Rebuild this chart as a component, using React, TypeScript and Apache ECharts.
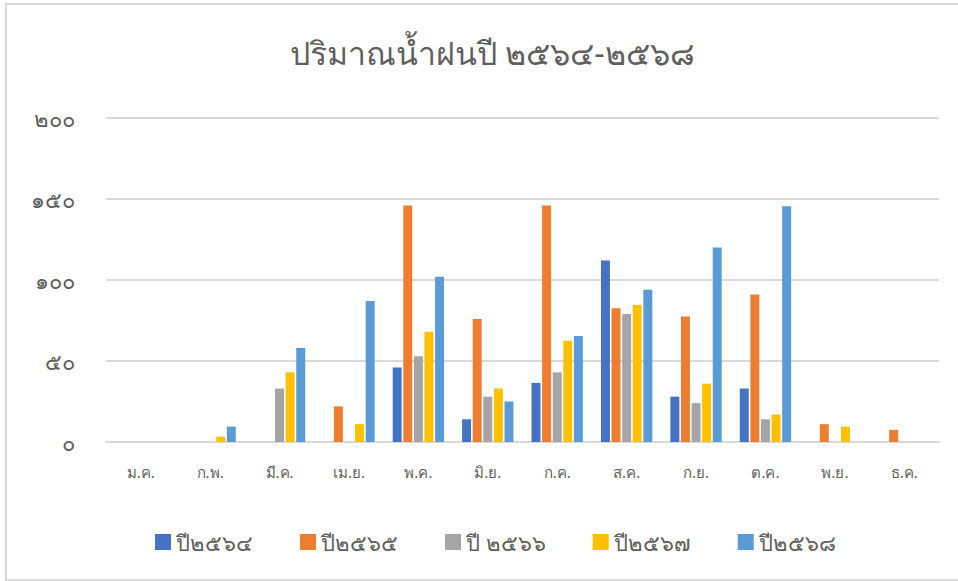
import React, { useEffect, useRef } from "react";
import * as echarts from "echarts";

const months = ["ม.ค.", "ก.พ.", "มี.ค.", "เม.ย.", "พ.ค.", "มิ.ย.", "ก.ค.", "ส.ค.", "ก.ย.", "ต.ค.", "พ.ย.", "ธ.ค."];
const seriesNames = ["ปี๒๕๖๔", "ปี๒๕๖๕", "ปี ๒๕๖๖", "ปี๒๕๖๗", "ปี๒๕๖๘"];
const y2564 = [null, null, null, null, 46, 14, 36.5, 112, 28, 33, null, null];
const y2565 = [null, null, null, 22, 146, 76, 146, 82.5, 77.5, 91, 11, 7.5];
const y2566 = [null, null, 33, null, 53, 28, 43, 79, 24, 14, null, null];
const y2567 = [null, 3.3, 43, 11, 68, 33, 62.5, 84.5, 36, 17, 9.5, null];
const y2568 = [null, 9.5, 58, 87, 102, 25, 65.5, 94, 120, 145.5, null, null];
const yTickLabels: Record<number, string> = { 0: "๐", 50: "๕๐", 100: "๑๐๐", 150: "๑๕๐", 200: "๒๐๐" };
const colors = ["#4472C4", "#ED7D31", "#A5A5A5", "#FFC000", "#5B9BD5"];
const titleText = "ปริมาณน้ำฝนปี ๒๕๖๔-๒๕๖๘";

const FONT = "'Noto Sans', 'DejaVu Sans', sans-serif";
const TXT = "#5f5f5f";

export default function App() {
  const ref = useRef<HTMLDivElement>(null);
  useEffect(() => {
    if (!ref.current) return;
    const chart = echarts.init(ref.current, undefined, { renderer: "svg" });
    const all = [y2564, y2565, y2566, y2567, y2568];
    chart.setOption({
      animation: false,
      backgroundColor: "#ffffff",
      color: colors,
      textStyle: { fontFamily: FONT },
      title: {
        text: titleText,
        left: 285,
        top: 31,
        textStyle: { fontFamily: FONT, fontSize: 32, fontWeight: "normal", color: TXT },
      },
      graphic: [
        {
          type: "rect",
          shape: { x: 6, y: 4, width: 960, height: 576 },
          style: { fill: "none", stroke: "#d9d9d9", lineWidth: 2 },
          silent: true,
        },
      ],
      legend: {
        left: 150,
        top: 526,
        itemWidth: 16,
        itemHeight: 16,
        itemGap: 47,
        icon: "rect",
        textStyle: { fontFamily: FONT, fontSize: 22, color: TXT },
        data: seriesNames,
      },
      grid: { left: 106, right: 19, top: 118, bottom: 139, containLabel: false },
      xAxis: {
        type: "category",
        data: months,
        axisLine: { show: true, lineStyle: { color: "#d9d9d9", width: 2 } },
        axisTick: { show: false },
        axisLabel: { fontFamily: FONT, fontSize: 15, color: TXT, margin: 22 },
      },
      yAxis: {
        type: "value",
        min: 0,
        max: 200,
        interval: 50,
        axisLine: { show: false },
        axisTick: { show: false },
        axisLabel: {
          fontFamily: FONT,
          fontSize: 22,
          color: TXT,
          margin: 31,
          formatter: (v: number) => yTickLabels[v] ?? String(v),
        },
        splitLine: { lineStyle: { color: "#d9d9d9", width: 2 } },
      },
      series: seriesNames.map((name, i) => ({
        name,
        type: "bar",
        data: all[i],
        barGap: "18%",
        barCategoryGap: "26%",
        itemStyle: { color: colors[i] },
      })),
    });
    return () => chart.dispose();
  }, []);
  return (
    <div
      ref={ref}
      style={{ position: "fixed", left: 0, top: 0, width: 958, height: 581 }}
    />
  );
}
